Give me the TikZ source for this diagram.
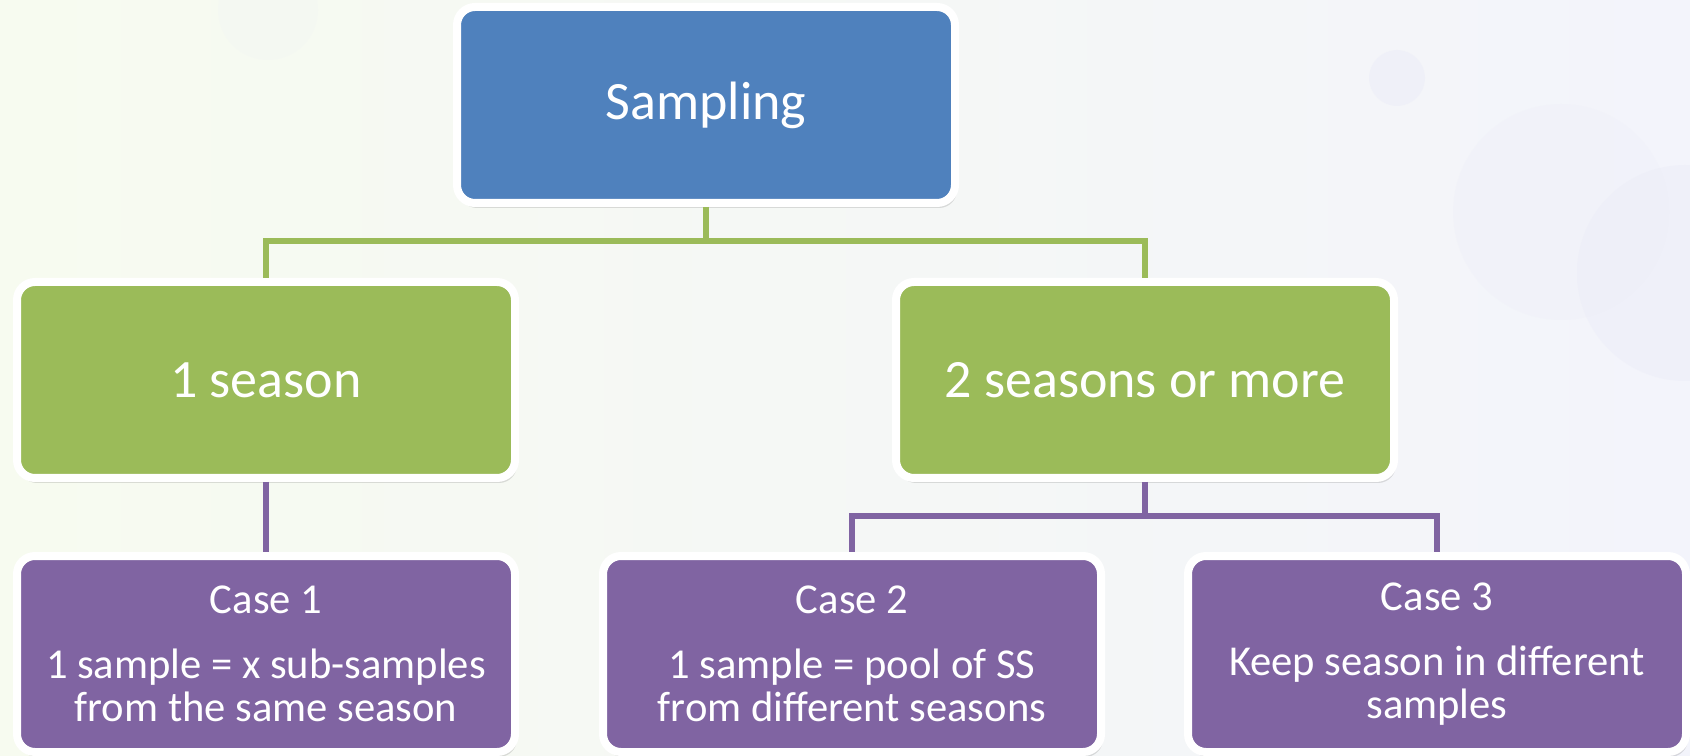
\documentclass[tikz,border=0pt]{standalone}
\usepackage{fontspec}
\setmainfont{Carlito}
\usetikzlibrary{shadows}

\definecolor{sampblue}{HTML}{4F81BD}
\definecolor{seasgreen}{HTML}{9BBB59}
\definecolor{casepurple}{HTML}{8064A2}
\definecolor{bgleft}{HTML}{F7FBF0}
\definecolor{bgright}{HTML}{F3F4FB}
\definecolor{bgdot}{HTML}{ECEDF8}

\begin{document}
\begin{tikzpicture}[x=0.5pt, y=0.5pt,
    box/.style={draw=white, line width=4pt, rounded corners=9pt,
        minimum width=249pt, minimum height=98pt, inner sep=0pt,
        text=white, align=center,
        drop shadow={shadow xshift=1pt, shadow yshift=-2.5pt, opacity=0.25}},
    topbox/.style={box, font=\fontsize{27}{32}\selectfont},
    casebox/.style={box, font=\fontsize{21.3}{21.5}\selectfont},
    link/.style={line width=2.6pt}]

    \useasboundingbox (0,0) rectangle (1690,755);

    % background
    \shade[left color=bgleft, right color=bgright] (0,0) rectangle (1690,755);
    \fill[bgdot, opacity=0.45] (1685,482) circle (108);
    \fill[bgdot, opacity=0.25] (1561,543) circle (108);
    \fill[bgdot, opacity=0.5] (1397,677) circle (28);
    \fill[bgdot!60!bgleft, opacity=0.25] (268,745) circle (50);

    % boxes
    \node[topbox, fill=sampblue] (samp) at (706,650) {Sampling};
    \node[topbox, fill=seasgreen] (one) at (266,375) {1 season};
    \node[topbox, fill=seasgreen] (two) at (1145,375) {2 seasons or more};

    \node[casebox, fill=casepurple] (caseA) at (266,101)
        {Case 1\\[11pt]1 sample = x sub-samples\\from the same season};
    \node[casebox, fill=casepurple] (caseB) at (852,101)
        {Case 2\\[11pt]1 sample = pool of SS\\from different seasons};
    \node[casebox, fill=casepurple] (caseC) at (1437,101)
        {Case 3\\[11pt]Keep season in different\\samples};

    % connectors
    \coordinate (gbus) at (0,514);
    \coordinate (pbus) at (0,239);

    \draw[link, seasgreen] (samp.south) -- (samp.south |- gbus) -| (one.north);
    \draw[link, seasgreen] (samp.south |- gbus) -| (two.north);

    \draw[link, casepurple] (one.south) -- (caseA.north);
    \draw[link, casepurple] (two.south) -- (two.south |- pbus) -| (caseB.north);
    \draw[link, casepurple] (two.south |- pbus) -| (caseC.north);

\end{tikzpicture}
\end{document}
